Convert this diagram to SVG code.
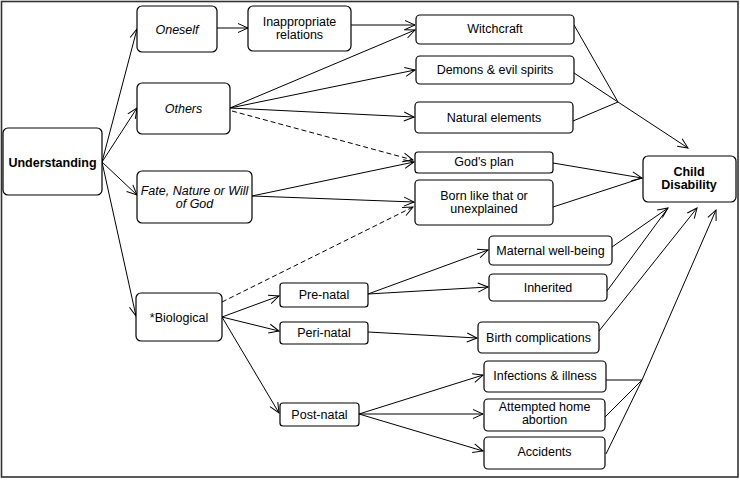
<svg xmlns="http://www.w3.org/2000/svg" width="740" height="480" viewBox="0 0 740 480">
<defs>
<style>
.box{fill:#fff;stroke:#000;stroke-width:1.2}
.frame{fill:#fff;stroke:#333;stroke-width:1.6}
text{font-family:"Liberation Sans",Arial,sans-serif;font-size:12.5px;fill:#000;text-anchor:middle}
.b{font-weight:bold}
.i{font-style:italic}
.c{fill:none;stroke:#000;stroke-width:1}
.a{marker-end:url(#arr)}
.d{stroke-dasharray:5,3}
</style>
<marker id="arr" markerUnits="userSpaceOnUse" markerWidth="12" markerHeight="12" viewBox="0 0 12 12" refX="11" refY="6" orient="auto">
<path d="M1,1.5 L11,6 L1,10.5" fill="none" stroke="#000" stroke-width="1"/>
</marker>
</defs>
<rect class="frame" x="1.5" y="1.5" width="736.5" height="475.5"/>

<g id="connectors">
<line class="c a" x1="102" y1="162" x2="137" y2="29"/>
<line class="c a" x1="102" y1="162" x2="137" y2="108"/>
<line class="c a" x1="102" y1="162" x2="137" y2="195"/>
<line class="c a" x1="102" y1="162" x2="136" y2="316"/>
<line class="c a" x1="217" y1="28" x2="248" y2="28"/>
<line class="c a" x1="351" y1="25" x2="415" y2="25"/>
<line class="c a" x1="230" y1="108" x2="415" y2="30"/>
<line class="c a" x1="230" y1="108" x2="415" y2="70"/>
<line class="c a" x1="230" y1="108" x2="414" y2="117"/>
<line class="c a d" x1="232" y1="111" x2="413" y2="160"/>
<line class="c a" x1="252" y1="196" x2="414" y2="162"/>
<line class="c a" x1="252" y1="196" x2="414" y2="202"/>
<line class="c a d" x1="222" y1="302" x2="413" y2="207"/>
<line class="c a" x1="222" y1="317" x2="279" y2="296"/>
<line class="c a" x1="222" y1="317" x2="279" y2="331"/>
<line class="c a" x1="222" y1="317" x2="279" y2="413"/>
<line class="c a" x1="368" y1="294" x2="488" y2="250"/>
<line class="c a" x1="368" y1="294" x2="488" y2="287"/>
<line class="c a" x1="368" y1="332" x2="477" y2="338"/>
<line class="c a" x1="359" y1="414" x2="483" y2="375"/>
<line class="c a" x1="359" y1="414" x2="483" y2="414"/>
<line class="c a" x1="359" y1="414" x2="483" y2="451"/>
<line class="c" x1="574" y1="25" x2="618" y2="102"/>
<line class="c" x1="574" y1="73" x2="618" y2="102"/>
<line class="c" x1="573" y1="121" x2="618" y2="102"/>
<line class="c a" x1="618" y1="102" x2="688" y2="148"/>
<line class="c a" x1="553" y1="163" x2="642" y2="178"/>
<line class="c" x1="553" y1="207" x2="642" y2="178"/>
<line class="c a" x1="612" y1="247" x2="668" y2="208"/>
<line class="c" x1="607" y1="291" x2="668" y2="208"/>
<line class="c a" x1="599" y1="331" x2="697" y2="208"/>
<line class="c" x1="606" y1="380" x2="642" y2="380"/>
<line class="c" x1="605" y1="417" x2="642" y2="380"/>
<polyline class="c a" points="606,454 642,380 716,210"/>
</g>

<g id="understanding"><rect class="box" x="3" y="128" width="99" height="67" rx="5"/><text class="b" x="52.5" y="167">Understanding</text></g>
<g id="oneself"><rect class="box" x="137" y="6" width="80" height="46" rx="5"/><text class="i" x="177" y="33.5">Oneself</text></g>
<g id="inappropriate"><rect class="box" x="248" y="6" width="103" height="45" rx="5"/><text x="299.5" y="26">Inappropriate</text><text x="299.5" y="38.5">relations</text></g>
<g id="others"><rect class="box" x="137" y="83" width="93" height="51" rx="5"/><text class="i" x="183.5" y="112.5">Others</text></g>
<g id="fate"><rect class="box" x="137" y="171" width="115" height="52" rx="5"/><text class="i" x="194.5" y="195">Fate,  Nature or Will</text><text class="i" x="194.5" y="207.5">of God</text></g>
<g id="biological"><rect class="box" x="136" y="293" width="86" height="48" rx="5"/><text x="179" y="321.5">*Biological</text></g>
<g id="prenatal"><rect class="box" x="280" y="283" width="88" height="24" rx="3"/><text x="324" y="299">Pre-natal</text></g>
<g id="perinatal"><rect class="box" x="280" y="322" width="88" height="22" rx="3"/><text x="324" y="337">Peri-natal</text></g>
<g id="postnatal"><rect class="box" x="280" y="403" width="79" height="23" rx="3"/><text x="319.5" y="418.5">Post-natal</text></g>
<g id="witchcraft"><rect class="box" x="416" y="15" width="158" height="29" rx="4"/><text x="495" y="33">Witchcraft</text></g>
<g id="demons"><rect class="box" x="416" y="56" width="158" height="28" rx="4"/><text x="495" y="73.5">Demons &amp; evil spirits</text></g>
<g id="natural"><rect class="box" x="415" y="102" width="158" height="31" rx="4"/><text x="494" y="121.5">Natural elements</text></g>
<g id="godsplan"><rect class="box" x="415" y="152" width="138" height="21" rx="3"/><text x="484" y="166">God's plan</text></g>
<g id="born"><rect class="box" x="415" y="180" width="138" height="45" rx="4"/><text x="484" y="199.5">Born like that or</text><text x="484" y="212.5">unexplained</text></g>
<g id="child"><rect class="box" x="643" y="156" width="93" height="46" rx="5"/><text class="b" x="689" y="176">Child</text><text class="b" x="689" y="188.5">Disability</text></g>
<g id="maternal"><rect class="box" x="489" y="236" width="123" height="29" rx="4"/><text x="550.5" y="254.5">Maternal well-being</text></g>
<g id="inherited"><rect class="box" x="489" y="274" width="118" height="27" rx="4"/><text x="548" y="292">Inherited</text></g>
<g id="birth"><rect class="box" x="478" y="322" width="121" height="31" rx="4"/><text x="538.5" y="341.5">Birth complications</text></g>
<g id="infections"><rect class="box" x="484" y="361" width="122" height="31" rx="4"/><text x="545" y="380">Infections &amp; illness</text></g>
<g id="attempted"><rect class="box" x="484" y="399" width="121" height="32" rx="4"/><text x="544.5" y="411">Attempted home</text><text x="544.5" y="424">abortion</text></g>
<g id="accidents"><rect class="box" x="484" y="437" width="121" height="32" rx="4"/><text x="544.5" y="456">Accidents</text></g>
</svg>
